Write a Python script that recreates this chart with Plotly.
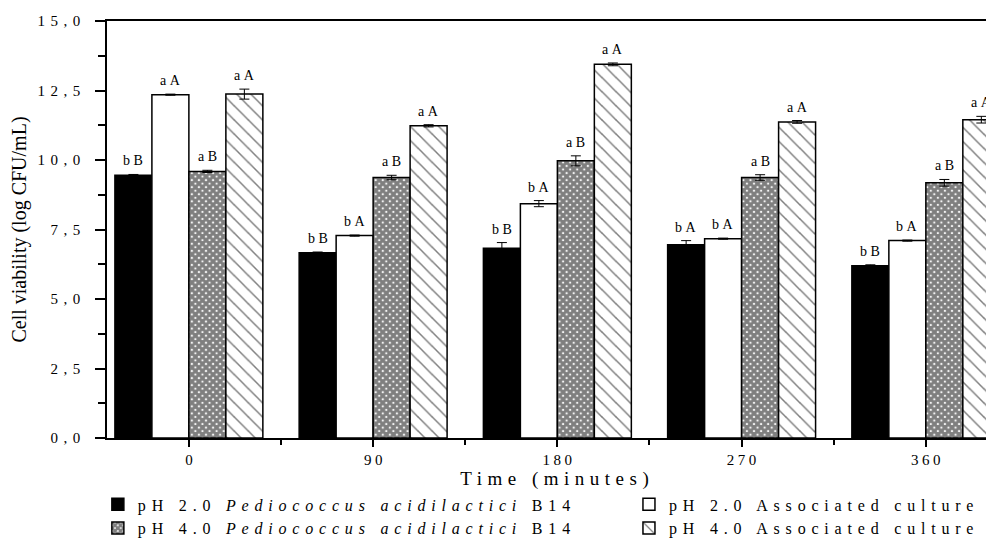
import plotly.graph_objects as go

times = [0, 90, 180, 270, 360]
series_names = [
    "pH 2.0 <i>Pediococcus acidilactici</i> B14",
    "pH 2.0 Associated culture",
    "pH 4.0 <i>Pediococcus acidilactici</i> B14",
    "pH 4.0 Associated culture",
]
ph2_pedio = [9.45, 6.66, 6.83, 6.95, 6.20]
ph2_assoc = [12.35, 7.28, 8.43, 7.17, 7.10]
ph4_pedio = [9.59, 9.37, 9.97, 9.37, 9.18]
ph4_assoc = [12.37, 11.23, 13.44, 11.37, 11.45]

ph2_pedio_err = [0.03, 0.03, 0.20, 0.15, 0.03]
ph2_assoc_err = [0.02, 0.02, 0.11, 0.02, 0.02]
ph4_pedio_err = [0.04, 0.08, 0.18, 0.10, 0.12]
ph4_assoc_err = [0.18, 0.04, 0.05, 0.05, 0.12]

ph2_pedio_lbl = ["bB", "bB", "bB", "bA", "bB"]
ph2_assoc_lbl = ["aA", "bA", "bA", "bA", "bA"]
ph4_pedio_lbl = ["aB", "aB", "aB", "aB", "aB"]
ph4_assoc_lbl = ["aA", "aA", "aA", "aA", "aA"]

y_tickvals = [0, 2.5, 5, 7.5, 10, 12.5, 15]
y_ticklabels = ["0,0", "2,5", "5,0", "7,5", "10,0", "12,5", "15,0"]
x_ticklabels = ["0", "90", "180", "270", "360"]

FONT = "Liberation Serif, Times New Roman, serif"


def spaced(s, px):
    """letter-spaced text without trailing space after the last character"""
    if len(s) < 2:
        return s
    return '<span style="letter-spacing:%gpx">%s</span>%s' % (px, s[:-1], s[-1])


def spaced_all(s, px):
    return '<span style="letter-spacing:%gpx">%s</span>' % (px, s)


values = [ph2_pedio, ph2_assoc, ph4_pedio, ph4_assoc]
errors = [ph2_pedio_err, ph2_assoc_err, ph4_pedio_err, ph4_assoc_err]
labels = [ph2_pedio_lbl, ph2_assoc_lbl, ph4_pedio_lbl, ph4_assoc_lbl]
legend_ids = ["legend", "legend2", "legend", "legend2"]
styles = [
    dict(color="black"),
    dict(color="white"),
    dict(color="white", pattern=dict(shape="x", fgcolor="black", bgcolor="white", size=5, solidity=0.85)),
    dict(color="white", pattern=dict(shape="\\", fgcolor="black", bgcolor="white", size=10, solidity=0.15)),
]

BARGAP = 0.197
fig = go.Figure()
for name, v, e, st, lg in zip(series_names, values, errors, styles, legend_ids):
    fig.add_trace(go.Bar(
        x=times, y=v, name=spaced_all(name, 5.8), legend=lg,
        marker=dict(line=dict(color="black", width=1.5), **st),
        error_y=dict(type="data", array=e, visible=True, color="black", thickness=1, width=5),
    ))

# labels above bars (positions follow the grouped bar layout)
n = len(values)
group_w = 90 * (1 - BARGAP)
bar_w = group_w / n
annotations = []
for i, (v, e, lb) in enumerate(zip(values, errors, labels)):
    off = (i - (n - 1) / 2) * bar_w
    for t, val, err, txt in zip(times, v, e, lb):
        annotations.append(dict(
            x=t + off, y=val + err, xref="x", yref="y", text=spaced(txt, 3.5),
            showarrow=False, yanchor="bottom", yshift=4,
            font=dict(family=FONT, size=14, color="black"),
        ))

legend_common = dict(
    orientation="v", yanchor="top", y=-0.1185, xanchor="left",
    traceorder="normal", tracegroupgap=0,
    font=dict(family=FONT, size=16, color="black"),
    bgcolor="rgba(0,0,0,0)",
)

fig.update_layout(
    width=994, height=543,
    margin=dict(l=99, r=0, t=13, b=113, autoexpand=False),
    paper_bgcolor="white", plot_bgcolor="white",
    barmode="group", bargap=BARGAP, bargroupgap=0,
    font=dict(family=FONT, color="black"),
    annotations=annotations,
    showlegend=True,
    legend=dict(x=-0.0102, **legend_common),
    legend2=dict(x=0.5832, **legend_common),
)

fig.update_xaxes(
    range=[-40, 397.2],
    tickmode="array", tickvals=times, ticktext=[spaced(t, 3.5) for t in x_ticklabels],
    ticks="outside", ticklen=7, tickwidth=1.5, tickcolor="black",
    minor=dict(tickmode="array", tickvals=[45, 135, 225, 315], ticks="outside", ticklen=5, tickwidth=1.5, tickcolor="black"),
    showline=True, linecolor="black", linewidth=1.5, mirror=True,
    showgrid=False, zeroline=False,
    tickfont=dict(family=FONT, size=15, color="black"),
    title=dict(text=spaced("Time (minutes)", 5.5), font=dict(family=FONT, size=19, color="black"), standoff=0),
)
fig.update_yaxes(
    range=[0, 15],
    tickmode="array", tickvals=y_tickvals, ticktext=[spaced(t, 5.5) for t in y_ticklabels],
    ticks="outside", ticklen=10, tickwidth=1.5, tickcolor="black",
    minor=dict(tickmode="array", tickvals=[1.25, 3.75, 6.25, 8.75, 11.25, 13.75], ticks="outside", ticklen=7, tickwidth=1.5, tickcolor="black"),
    showline=True, linecolor="black", linewidth=1.5, mirror=False,
    showgrid=False, zeroline=False,
    tickfont=dict(family=FONT, size=15, color="black"),
    ticklabelstandoff=12,
    title=dict(text="Cell viability (log CFU/mL)", font=dict(family=FONT, size=20, color="black"), standoff=13),
)

fig.write_html("out.html")
